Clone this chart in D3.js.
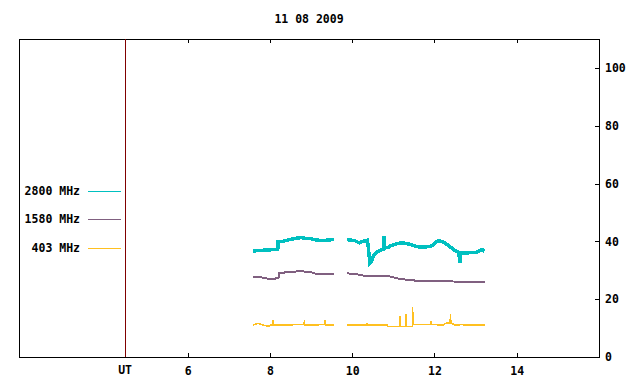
<!DOCTYPE html>
<html>
<head>
<meta charset="utf-8">
<script src="https://cdn.jsdelivr.net/npm/d3@7"></script>
<style>
  body { margin: 0; background: #fff; }
  text { font-family: "DejaVu Sans Mono", "Liberation Mono", monospace; font-size: 11.5px; font-weight: bold; fill: #000; }
</style>
</head>
<body>
<script>
const title = '11 08 2009'
const xTicks = [6, 8, 10, 12, 14]
const yTicks = [0, 20, 40, 60, 80, 100]
const utMark = 4.48

// [hour UT, flux], null = data gap
const mhz2800 = [
  [7.585, 36.7], [7.73, 36.8], [7.88, 37.0], [8.02, 37.1], [8.19, 37.2],
  [8.20, 39.8], [8.32, 40.0], [8.46, 40.6], [8.61, 41.0], [8.76, 41.3],
  [8.88, 41.0], [9.00, 40.9], [9.12, 40.5], [9.24, 40.3], [9.39, 40.4], [9.56, 40.7],
  null,
  [9.88, 40.6], [9.98, 40.4], [10.07, 40.2], [10.17, 39.5], [10.27, 40.0], [10.37, 40.4],
  [10.39, 38.0], [10.43, 32.5], [10.47, 33.0], [10.51, 34.8], [10.59, 36.2], [10.66, 36.8],
  [10.76, 37.3], [10.77, 41.7], [10.78, 37.6], [10.88, 38.0], [10.95, 38.6], [11.07, 39.1],
  [11.20, 39.5], [11.32, 39.3], [11.44, 38.8], [11.56, 38.2], [11.68, 38.0], [11.80, 38.1],
  [11.93, 38.4], [12.02, 39.6], [12.10, 40.3], [12.22, 39.7], [12.34, 38.6], [12.46, 37.2],
  [12.59, 36.2], [12.62, 32.5], [12.64, 36.0], [12.78, 36.0], [12.90, 36.1], [13.02, 36.2],
  [13.15, 37.2], [13.22, 36.6],
]

const mhz1580 = [
  [7.585, 27.6], [7.80, 27.5], [7.98, 27.0], [8.12, 27.1], [8.21, 27.4], [8.22, 29.0],
  [8.46, 29.4], [8.76, 29.7], [9.00, 29.3], [9.12, 28.8], [9.56, 28.8],
  null,
  [9.88, 28.9], [10.10, 28.8], [10.17, 28.3], [10.40, 28.0], [10.78, 28.0], [10.95, 27.8],
  [11.07, 27.3], [11.20, 26.9], [11.44, 26.6], [11.60, 26.3], [12.0, 26.3], [12.5, 26.1],
  [13.0, 26.0], [13.22, 25.9],
]

const mhz403 = [
  [7.585, 11.0], [7.66, 11.4], [7.73, 11.6], [7.80, 11.2], [7.90, 10.8], [7.98, 10.7],
  [8.02, 11.0], [8.06, 11.0], [8.07, 12.9], [8.08, 11.0], [8.50, 11.0], [8.60, 11.3],
  [8.80, 11.2], [8.83, 11.2], [8.84, 12.8], [8.85, 11.0], [9.30, 11.2], [9.33, 11.2],
  [9.34, 12.8], [9.35, 11.0], [9.56, 11.0],
  null,
  [9.88, 11.0], [10.35, 11.0], [10.36, 11.4], [10.37, 11.0], [10.86, 11.0], [10.87, 10.5],
  [11.15, 10.5], [11.16, 14.2], [11.17, 10.5], [11.30, 10.5], [11.31, 14.9], [11.32, 10.5],
  [11.46, 10.5], [11.47, 17.3], [11.48, 11.3], [11.90, 11.3], [11.91, 12.4], [11.92, 11.3],
  [12.10, 11.1], [12.20, 11.0], [12.30, 11.8], [12.38, 11.8], [12.39, 14.8], [12.40, 11.8],
  [12.50, 11.0], [12.65, 11.2], [12.80, 11.0], [13.00, 11.1], [13.22, 11.0],
]

const seriesNames = ['2800 MHz', '1580 MHz', '403 MHz']
const seriesData = [mhz2800, mhz1580, mhz403]
const seriesColors = ['#00c0c0', '#806080', '#ffc020']
const seriesWidths = [3.5, 2, 1.5]

const W = 640, H = 384
const frame = { left: 19, right: 599, top: 39, bottom: 357 }

const svg = d3.select('body').append('svg').attr('width', W).attr('height', H)

const x = d3.scaleLinear().domain([1.9, 16]).range([frame.left, frame.right])
const y = d3.scaleLinear().domain([0, 110]).range([frame.bottom, frame.top])

svg.append('text')
  .attr('x', 309).attr('y', 23)
  .attr('text-anchor', 'middle')
  .text(title)

// bottom axis, ticks pointing inward
const xAxisG = svg.append('g')
  .attr('transform', `translate(0, ${frame.bottom})`)
  .call(d3.axisBottom(x).tickValues(xTicks).tickSizeInner(-4).tickSizeOuter(0).tickPadding(10))
xAxisG.select('.domain').remove()

// top ticks, no labels
const xTopG = svg.append('g')
  .attr('transform', `translate(0, ${frame.top})`)
  .call(d3.axisTop(x).tickValues(xTicks).tickSizeInner(-4).tickSizeOuter(0).tickFormat(''))
xTopG.select('.domain').remove()

// right axis
const yAxisG = svg.append('g')
  .attr('transform', `translate(${frame.right}, 0)`)
  .call(d3.axisRight(y).tickValues(yTicks).tickSizeInner(-4).tickSizeOuter(0).tickPadding(6))
yAxisG.select('.domain').remove()

svg.selectAll('.tick line').attr('stroke', '#000').attr('shape-rendering', 'crispEdges')
svg.selectAll('.tick text').attr('font-family', null).attr('font-size', null)
yAxisG.selectAll('.tick text').attr('text-anchor', 'start')

svg.append('rect')
  .attr('x', frame.left + 0.5).attr('y', frame.top + 0.5)
  .attr('width', frame.right - frame.left).attr('height', frame.bottom - frame.top)
  .attr('fill', 'none').attr('stroke', '#000')
  .attr('shape-rendering', 'crispEdges')

// UT marker
svg.append('line')
  .attr('x1', Math.round(x(utMark)) + 0.5).attr('x2', Math.round(x(utMark)) + 0.5)
  .attr('y1', frame.top).attr('y2', frame.bottom)
  .attr('stroke', '#800000')
  .attr('shape-rendering', 'crispEdges')
svg.append('text')
  .attr('x', x(utMark)).attr('y', frame.bottom + 17)
  .attr('text-anchor', 'middle')
  .text('UT')

const line = d3.line()
  .defined(p => p !== null)
  .x(p => x(p[0]))
  .y(p => y(p[1]))

seriesData.forEach((data, i) => {
  svg.append('path')
    .datum(data)
    .attr('d', line)
    .attr('fill', 'none')
    .attr('stroke', seriesColors[i])
    .attr('stroke-width', seriesWidths[i])
    .attr('stroke-linejoin', 'miter')
    .attr('shape-rendering', 'crispEdges')
})

// legend
const legendY = [191, 219, 248]
seriesNames.forEach((name, i) => {
  svg.append('text')
    .attr('x', 80).attr('y', legendY[i] + 4)
    .attr('text-anchor', 'end')
    .text(name)
  svg.append('line')
    .attr('x1', 88).attr('x2', 121)
    .attr('y1', legendY[i] + 0.5).attr('y2', legendY[i] + 0.5)
    .attr('stroke', seriesColors[i])
    .attr('shape-rendering', 'crispEdges')
})
</script>
</body>
</html>
